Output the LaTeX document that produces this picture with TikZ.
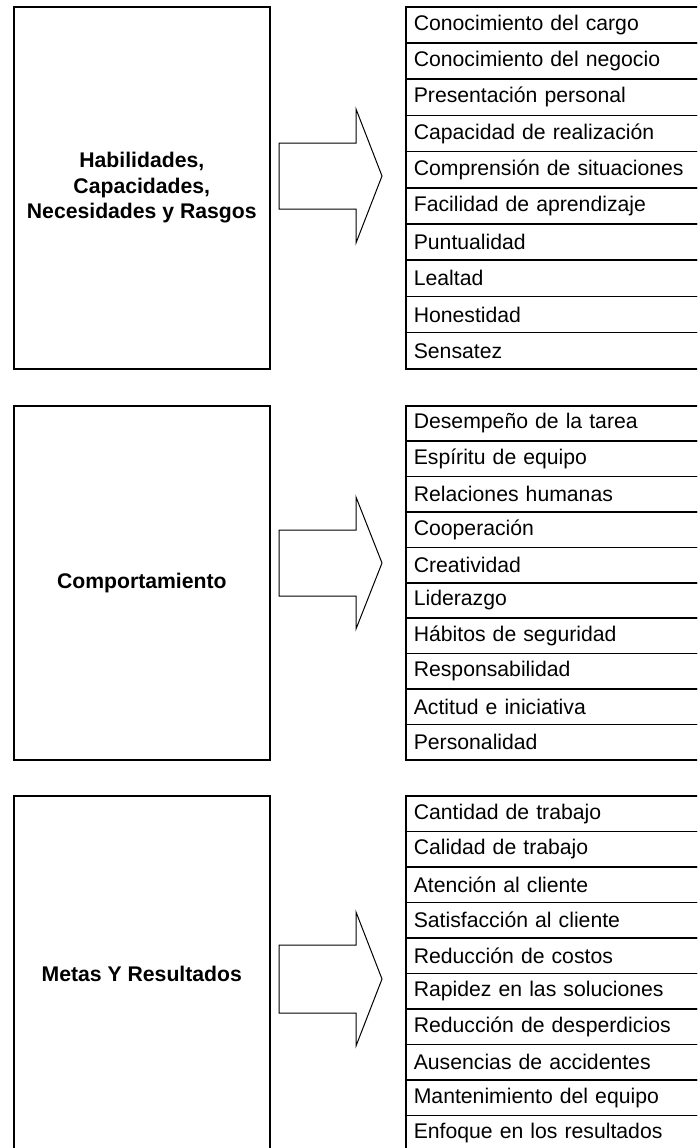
\documentclass[tikz,border=0pt]{standalone}
\usepackage{fontspec}
\setmainfont{Liberation Sans}
\usepackage{tikz}

\begin{document}
\begin{tikzpicture}[x=1pt, y=-1pt,
    lbox/.style={draw, rectangle, line width=1.6pt, minimum width=256pt, align=center, font=\bfseries\fontsize{21.2}{25.5}\selectfont},
    item/.style={draw, rectangle, line width=1.6pt, inner xsep=8pt, inner ysep=0pt, text width=284pt, align=left, font=\fontsize{21.2}{25}\selectfont},
    bigarrow/.style={draw, line width=1pt, line join=miter}]
    \useasboundingbox (0,0) rectangle (697,1148);
    \clip (0,0) rectangle (697,1148);

    % Habilidades (top)
    \node[lbox, anchor=north west, minimum height=362pt] (hab) at (13,6) {Habilidades,\\ Capacidades,\\ Necesidades y Rasgos};
    \begin{scope}[node distance=36.2pt, item/.append style={minimum height=36.2pt}]
    \node[item, anchor=north west] (hab1) at (405,6) {Conocimiento del cargo};
    \node[item, below of=hab1] (hab2) {Conocimiento del negocio};
    \node[item, below of=hab2] (hab3) {Presentación personal};
    \node[item, below of=hab3] (hab4) {Capacidad de realización};
    \node[item, below of=hab4] (hab5) {Comprensión de situaciones};
    \node[item, below of=hab5] (hab6) {Facilidad de aprendizaje};
    \node[item, below of=hab6] (hab7) {Puntualidad};
    \node[item, below of=hab7] (hab8) {Lealtad};
    \node[item, below of=hab8] (hab9) {Honestidad};
    \node[item, below of=hab9] (hab10) {Sensatez};
    \end{scope}
    \coordinate (arr1) at (279,176);
    \draw[bigarrow] (arr1) ++(0,-33) -- ++(77,0) -- ++(0,-34) -- ++(26,67) -- ++(-26,67) -- ++(0,-34) -- ++(-77,0) -- cycle;

    % Comportamiento (middle)
    \node[lbox, anchor=north west, minimum height=354pt] (comp) at (13,405) {Comportamiento};
    \begin{scope}[node distance=35.4pt, item/.append style={minimum height=35.4pt}]
    \node[item, anchor=north west] (comp1) at (405,405) {Desempeño de la tarea};
    \node[item, below of=comp1] (comp2) {Espíritu de equipo};
    \node[item, below of=comp2] (comp3) {Relaciones humanas};
    \node[item, below of=comp3] (comp4) {Cooperación};
    \node[item, below of=comp4] (comp5) {Creatividad};
    \node[item, below of=comp5] (comp6) {Liderazgo};
    \node[item, below of=comp6] (comp7) {Hábitos de seguridad};
    \node[item, below of=comp7] (comp8) {Responsabilidad};
    \node[item, below of=comp8] (comp9) {Actitud e iniciativa};
    \node[item, below of=comp9] (comp10) {Personalidad};
    \end{scope}
    \coordinate (arr2) at (279,563);
    \draw[bigarrow] (arr2) ++(0,-33) -- ++(77,0) -- ++(0,-33) -- ++(26,66) -- ++(-26,66) -- ++(0,-33) -- ++(-77,0) -- cycle;

    % Metas y resultados (bottom)
    \node[lbox, anchor=north west, minimum height=356pt] (met) at (13,795) {Metas Y Resultados};
    \begin{scope}[node distance=35.5pt, item/.append style={minimum height=35.5pt}]
    \node[item, anchor=north west] (met1) at (405,795) {Cantidad de trabajo};
    \node[item, below of=met1] (met2) {Calidad de trabajo};
    \node[item, below of=met2] (met3) {Atención al cliente};
    \node[item, below of=met3] (met4) {Satisfacción al cliente};
    \node[item, below of=met4] (met5) {Reducción de costos};
    \node[item, below of=met5] (met6) {Rapidez en las soluciones};
    \node[item, below of=met6] (met7) {Reducción de desperdicios};
    \node[item, below of=met7] (met8) {Ausencias de accidentes};
    \node[item, below of=met8] (met9) {Mantenimiento del equipo};
    \node[item, below of=met9] (met10) {Enfoque en los resultados};
    \end{scope}
    \coordinate (arr3) at (279,979);
    \draw[bigarrow] (arr3) ++(0,-34) -- ++(77,0) -- ++(0,-33) -- ++(26,67) -- ++(-26,67) -- ++(0,-33) -- ++(-77,0) -- cycle;
\end{tikzpicture}
\end{document}
